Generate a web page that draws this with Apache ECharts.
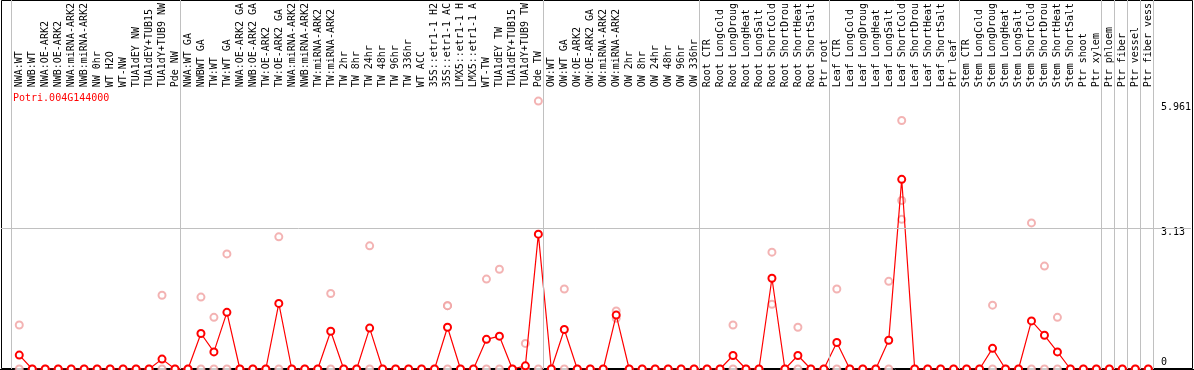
<!DOCTYPE html>
<html>
<head>
<meta charset="utf-8">
<script src="https://cdn.jsdelivr.net/npm/echarts@6/dist/echarts.min.js"></script>
<style>
html,body{margin:0;padding:0;background:#fff;}
#chart{width:1194px;height:370px;}
</style>
</head>
<body>
<div id="chart"></div>
<script>
// ---- data ----
const geneId = 'Potri.004G144000';

const categories = [
  'NWA:WT','NWB:WT','NWA:OE-ARK2','NWB:OE-ARK2','NWA:miRNA-ARK2','NWB:miRNA-ARK2','NW 0hr','WT H2O','WT-NW','TUA1dEY NW','TUA1dEY+TUB15','TUA1dY+TUB9 NW','Pde NW',
  'NWA:WT GA','NWBWT GA','TW:WT','TW:WT GA','NWA:OE-ARK2 GA','NWB:OE-ARK2 GA','TW:OE-ARK2','TW:OE-ARK2 GA','NWA:miRNA-ARK2','NWB:miRNA-ARK2','TW:miRNA-ARK2','TW:miRNA-ARK2',
  'TW 2hr','TW 8hr','TW 24hr','TW 48hr','TW 96hr','TW 336hr','WT ACC','35S::etr1-1 H2','35S::etr1-1 AC','LMX5::etr1-1 H','LMX5::etr1-1 A','WT-TW','TUA1dEY TW','TUA1dEY+TUB15','TUA1dY+TUB9 TW','Pde TW',
  'OW:WT','OW:WT GA','OW:OE-ARK2','OW:OE-ARK2 GA','OW:miRNA-ARK2','OW:miRNA-ARK2','OW 2hr','OW 8hr','OW 24hr','OW 48hr','OW 96hr','OW 336hr',
  'Root CTR','Root LongCold','Root LongDroug','Root LongHeat','Root LongSalt','Root ShortCold','Root ShortDrou','Root ShortHeat','Root ShortSalt','Ptr root',
  'Leaf CTR','Leaf LongCold','Leaf LongDroug','Leaf LongHeat','Leaf LongSalt','Leaf ShortCold','Leaf ShortDrou','Leaf ShortHeat','Leaf ShortSalt','Ptr leaf',
  'Stem CTR','Stem LongCold','Stem LongDroug','Stem LongHeat','Stem LongSalt','Stem ShortCold','Stem ShortDrou','Stem ShortHeat','Stem ShortSalt','Ptr shoot',
  'Ptr xylem','Ptr phloem','Ptr fiber','Ptr vessel','Ptr fiber vess'
];

// mean expression per sample (red line)
const means = [
  0.31,0,0,0,0,0,0,0,0,0,0,0.22,0,
  0,0.79,0.38,1.26,0,0,0,1.46,0,0,0,0.84,
  0,0,0.91,0,0,0,0,0,0.93,0,0,0.66,0.73,0,0.07,3.00,
  0,0.88,0,0,0,1.20,0,0,0,0,0,0,
  0,0,0.30,0,0,2.02,0,0.30,0,0,
  0.59,0,0,0,0.64,4.22,0,0,0,0,
  0,0,0.46,0,0,1.07,0.75,0.38,0,0,
  0,0,0,0,0
];

// individual replicate values per sample (pink circles)
const replicates = [
  [0.98,0],[0],[0],[0],[0],[0],[0],[0],[0],[0],[0],[1.64,0],[0],
  [0],[1.60,0],[1.15,0],[2.56,0],[0],[0],[0],[2.94,0],[0],[0],[0],[1.68,0],
  [0],[0],[2.74,0],[0],[0],[0],[0],[0],[1.41,1.41,0],[0],[0],[2.00,0],[2.22,0],[0],[0.57,0],[5.961,0],
  [0],[1.78,0],[0],[0],[0],[1.29,1.13],[0],[0],[0],[0],[0],[0],
  [0],[0],[0.98,0],[0],[0],[2.60,1.44],[0],[0.93,0],[0],[0],
  [1.78,0],[0],[0],[0],[1.95,0],[5.53,3.75,3.33],[0],[0],[0],[0],
  [0],[0],[1.42,0],[0],[0],[3.25,0],[2.29,0],[1.15,0],[0],[0],
  [0],[0],[0],[0],[0]
];

const yTickValues = [0, 3.13, 5.961];
const gridLineValue = 3.13;
// boundaries between sample groups (in sample-index units)
const groupBreaks = [-0.6, 12.4, 40.4, 52.4, 62.4, 72.4, 83.4, 84.4, 85.4, 86.4, 87.4];

// ---- chart ----
const MONO = "'DejaVu Sans Mono', monospace";
const STEP = 13;           // px per sample
const X_MIN = -1.408;      // index value at plot left edge
const X_MAX = X_MIN + 1192 / STEP;

const labelCats = [''].concat(categories, ['', '', '']);

const meanData = means.map((v, i) => [i, v]);
const repData = [];
replicates.forEach((arr, i) => arr.forEach(v => repData.push([i, v])));

const chart = echarts.init(document.getElementById('chart'), null, {renderer: 'canvas'});
chart.setOption({
  animation: false,
  backgroundColor: '#fff',
  title: {
    text: geneId, left: 8, top: 88,
    textStyle: {color: '#ff0000', fontFamily: MONO, fontSize: 10, fontWeight: 'normal'}
  },
  grid: [
    {left: 1, right: 1, top: 0, bottom: 1},
    {left: -0.2, top: 85, width: STEP * labelCats.length, height: 284}
  ],
  xAxis: [
    {type: 'value', gridIndex: 0, min: X_MIN, max: X_MAX, show: false},
    {type: 'category', gridIndex: 1, position: 'top', data: labelCats, boundaryGap: true,
     axisLine: {show: true, lineStyle: {color: '#000', width: 1}},
     axisTick: {show: false},
     axisLabel: {rotate: 90, interval: 0, margin: 2, color: '#000', fontFamily: MONO, fontSize: 10},
     splitLine: {show: false}}
  ],
  yAxis: [
    {type: 'value', gridIndex: 0, min: 0, max: 8.21, position: 'right',
     axisLine: {show: false}, axisTick: {show: false}, splitLine: {show: false},
     axisLabel: {
       inside: true, customValues: yTickValues, align: 'left', margin: 30,
       color: '#000', fontFamily: MONO, fontSize: 10,
       formatter: v => (v === 0 ? '{up|' + v + '}' : (v > 5 ? '{dn|' + v + '}' : '{dn2|' + v + '}')),
       rich: {
         up: {fontFamily: MONO, fontSize: 10, color: '#000', padding: [0, 0, 14, 0]},
         dn: {fontFamily: MONO, fontSize: 10, color: '#000', padding: [12, 0, 0, 0]},
         dn2: {fontFamily: MONO, fontSize: 10, color: '#000', padding: [9, 0, 0, 0]}
       }
     }},
    {type: 'value', gridIndex: 1, min: 0, max: 1, show: false}
  ],
  graphic: [
    {type: 'rect', z: -1, shape: {x: 1.5, y: 0.5, width: 1191, height: 368},
     style: {fill: null, stroke: '#000', lineWidth: 1}, silent: true}
  ],
  series: [
    {
      type: 'scatter', xAxisIndex: 0, yAxisIndex: 0, data: repData, z: 2,
      symbol: 'emptyCircle', symbolSize: 7,
      itemStyle: {color: '#f0a0a0', borderColor: '#f0a0a0', borderWidth: 1.6},
      markLine: {
        silent: true, symbol: ['none', 'none'], label: {show: false},
        lineStyle: {color: '#c0c0c0', width: 1, type: 'solid'},
        data: groupBreaks.map(b => ({xAxis: b})).concat([{yAxis: gridLineValue}])
      }
    },
    {
      type: 'line', xAxisIndex: 0, yAxisIndex: 0, data: meanData, z: 3,
      symbol: 'emptyCircle', symbolSize: 7, showAllSymbol: true,
      lineStyle: {color: '#ff0000', width: 1.2},
      itemStyle: {color: '#ff0000', borderColor: '#ff0000', borderWidth: 1.8}
    }
  ]
});
</script>
</body>
</html>
